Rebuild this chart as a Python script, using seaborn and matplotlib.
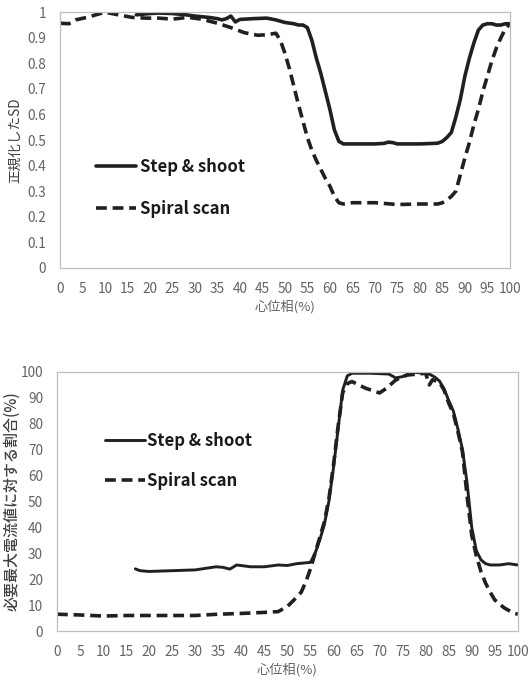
import matplotlib
matplotlib.use("Agg")
import matplotlib.pyplot as plt
import seaborn as sns
import pandas as pd

# ---- data ----
x_ticks = list(range(0, 101, 5))

top_solid_x = [17, 20, 22, 25, 28, 30, 33, 35, 36, 37, 38, 39, 40, 43, 46, 48, 50, 52, 53, 54,
               55, 56, 57, 58, 59, 60, 61, 62, 63, 65, 70, 72, 73, 74, 75, 78, 80, 83, 84, 85,
               86, 87, 88, 89, 90, 91, 92, 93, 94, 95, 96, 97, 98, 99, 100]
top_solid_y = [0.99, 0.995, 0.997, 0.995, 0.99, 0.985, 0.98, 0.975, 0.97, 0.975,
               0.985, 0.962, 0.972, 0.975, 0.977, 0.97, 0.96, 0.955, 0.95, 0.95,
               0.94, 0.89, 0.82, 0.76, 0.69, 0.62, 0.54, 0.495, 0.485, 0.485,
               0.485, 0.487, 0.492, 0.49, 0.485, 0.485, 0.485, 0.487, 0.488, 0.495,
               0.51, 0.53, 0.59, 0.66, 0.75, 0.82, 0.88, 0.93, 0.95, 0.955,
               0.955, 0.95, 0.95, 0.955, 0.955]

top_dash_x = [0, 2, 3.5, 6, 8, 10, 13, 16, 19, 22, 25, 28.5, 31.5, 35, 38, 41, 44, 46, 48, 49,
              50, 51, 52, 53, 54, 55, 56, 57, 58, 59, 60, 61, 62, 63, 65, 70, 75, 80, 83, 84,
              85, 86, 87, 88, 89, 90, 91, 92, 93, 94, 95, 96, 97, 98, 99, 100]
top_dash_y = [0.957, 0.955, 0.97, 0.98, 0.99, 1.0, 0.99, 0.98, 0.977, 0.977,
              0.973, 0.98, 0.973, 0.957, 0.94, 0.92, 0.91, 0.912, 0.918, 0.89,
              0.84, 0.78, 0.71, 0.64, 0.575, 0.51, 0.46, 0.42, 0.385, 0.35,
              0.32, 0.28, 0.255, 0.25, 0.255, 0.255, 0.248, 0.25, 0.25, 0.25,
              0.255, 0.265, 0.28, 0.30, 0.365, 0.43, 0.49, 0.56, 0.62, 0.69,
              0.75, 0.81, 0.86, 0.90, 0.935, 0.955]

bot_solid_x = [17, 18, 20, 25, 30, 34.5, 36, 37.5, 39, 42, 45, 48, 50, 52, 55, 56, 57, 58, 59, 60,
               61, 62, 63, 64, 68, 72, 73.5, 75, 77, 80, 81, 82, 83, 84, 85, 86, 87, 88, 89, 90,
               91, 92, 93, 94, 96, 98, 100]
bot_solid_y = [24, 23.3, 23, 23.3, 23.6, 24.8, 24.6, 23.9, 25.5, 24.8,
               24.8, 25.5, 25.3, 26, 26.5, 30, 35, 41, 50, 63,
               78, 93, 98.5, 99.5, 99.5, 99.2, 97.7, 98.2, 99.9, 99.5,
               99, 98, 96.5, 93.5, 89, 85, 78, 70, 57, 40,
               31, 27.5, 26, 25.5, 25.5, 26, 25.5]

bot_dash_x = [0, 5, 10, 15, 20, 25, 30, 35, 40, 45, 48, 50, 52, 53, 54, 55, 56, 57, 58, 59,
              60, 61, 62, 63, 64, 67, 70, 71.5, 73.5, 76, 80, 80.8, 81.5, 83, 84, 85, 86, 87, 88, 89,
              90, 91, 92, 93, 94, 95, 96, 97, 98, 99, 100]
bot_dash_y = [6.5, 6.2, 5.8, 6, 6, 6, 6, 6.5, 6.8, 7.2,
              7.5, 9.5, 13, 15, 19, 24, 30, 36, 42, 51,
              64, 79, 92, 95.5, 96.3, 93.7, 91.9, 93.7, 96.9, 98.8,
              99.5, 95, 97, 96, 93, 88, 84, 77, 69, 52,
              37, 29, 23, 18.5, 15, 12, 10.5, 9, 8, 7, 6.5]

series_labels = ["Step & shoot", "Spiral scan"]
top_ylabel = "正規化したSD"
bot_ylabel = "必要最大電流値に対する割合(%)"
xlabel = "心位相(%)"

# ---- style ----
sns.set_style("white")
plt.rcParams["font.family"] = ["Noto Sans CJK JP", "DejaVu Sans"]

TICK_C = "#636363"
SPINE_C = "#bfbfbf"
LINE_C = "#231f20"

fig = plt.figure(figsize=(5.3, 6.8), dpi=100)
ax1 = fig.add_axes([0.113, 0.606, 0.849, 0.376])
ax2 = fig.add_axes([0.1075, 0.072, 0.8695, 0.381])


def style_axes(ax, ylim, yticks, yticklabels, ylabel, ylsize, ylweight, ylx):
    ax.set_xlim(0, 100)
    ax.set_ylim(*ylim)
    ax.set_xticks(x_ticks)
    ax.set_xticklabels([str(v) for v in x_ticks])
    ax.set_yticks(yticks)
    ax.set_yticklabels(yticklabels)
    ax.tick_params(axis="both", direction="in", length=3, width=0.8, color=SPINE_C,
                   labelcolor=TICK_C, labelsize=9.8)
    ax.tick_params(axis="y", pad=10)
    ax.tick_params(axis="x", pad=10)
    for s in ax.spines.values():
        s.set_visible(True)
        s.set_color(SPINE_C)
        s.set_linewidth(0.9)
    ax.set_xlabel(xlabel, color=TICK_C, fontsize=9.5, labelpad=3)
    ax.set_ylabel(ylabel, color="#404040", fontsize=ylsize, fontweight=ylweight)
    ax.yaxis.set_label_coords(ylx, 0.5)
    ax.grid(False)


# top chart
sns.lineplot(x=top_solid_x, y=top_solid_y, ax=ax1, color=LINE_C, lw=2.6,
             label=series_labels[0], sort=False)
sns.lineplot(x=top_dash_x, y=top_dash_y, ax=ax1, color=LINE_C, lw=2.6,
             linestyle=(0, (3, 1.6)), label=series_labels[1], sort=False)
style_axes(ax1, (0, 1), [i / 10 for i in range(11)],
           ["0"] + [f"0.{i}" for i in range(1, 10)] + ["1"], top_ylabel, 9.8, "normal", -0.085)
leg1 = ax1.legend(loc="upper left", bbox_to_anchor=(0.066, 0.455), frameon=False,
                  prop={"family": ["Noto Sans CJK JP", "DejaVu Sans"], "weight": "bold", "size": 12},
                  handlelength=2.4, handletextpad=0.25, labelspacing=1.4, borderaxespad=0)
for t in leg1.get_texts():
    t.set_color("#1a1a1a")

# bottom chart
sns.lineplot(x=bot_solid_x, y=bot_solid_y, ax=ax2, color=LINE_C, lw=2.1,
             label=series_labels[0], sort=False)
sns.lineplot(x=bot_dash_x, y=bot_dash_y, ax=ax2, color=LINE_C, lw=2.6,
             linestyle=(0, (3, 1.6)), label=series_labels[1], sort=False)
style_axes(ax2, (0, 100), list(range(0, 101, 10)),
           [str(v) for v in range(0, 101, 10)], bot_ylabel, 10.8, "medium", -0.08)
leg2 = ax2.legend(loc="upper left", bbox_to_anchor=(0.089, 0.795), frameon=False,
                  prop={"family": ["Noto Sans CJK JP", "DejaVu Sans"], "weight": "bold", "size": 12},
                  handlelength=2.4, handletextpad=0.15, labelspacing=1.35, borderaxespad=0)
for t in leg2.get_texts():
    t.set_color("#1a1a1a")

fig.savefig("out.png", dpi=100, facecolor="white")
